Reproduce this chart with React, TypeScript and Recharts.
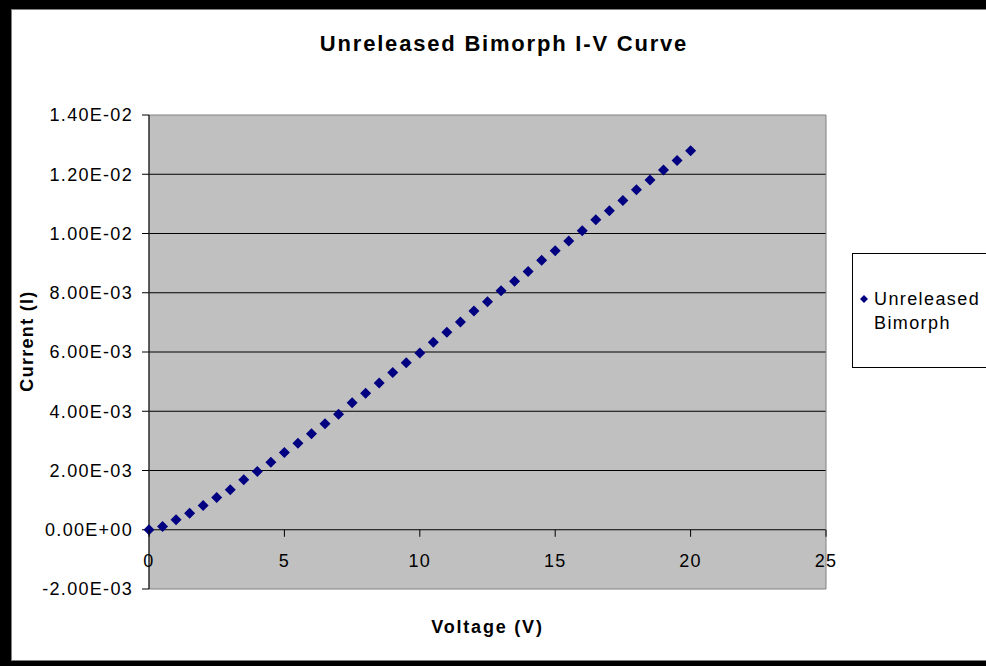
import React from 'react'
import { ScatterChart, Scatter, XAxis, YAxis, CartesianGrid, ReferenceArea, Legend } from 'recharts'

const VOLTAGE = [
  0, 0.5, 1, 1.5, 2, 2.5, 3, 3.5, 4, 4.5, 5, 5.5, 6, 6.5, 7, 7.5, 8, 8.5, 9, 9.5,
  10, 10.5, 11, 11.5, 12, 12.5, 13, 13.5, 14, 14.5, 15, 15.5, 16, 16.5, 17, 17.5, 18, 18.5, 19, 19.5, 20,
]
const CURRENT = [
  0, 0.00011, 0.00034, 0.00056, 0.00082, 0.00109, 0.00135, 0.00169, 0.00197, 0.00228,
  0.00261, 0.00292, 0.00324, 0.00358, 0.0039, 0.00429, 0.00461, 0.00495, 0.00531, 0.00564,
  0.00597, 0.00633, 0.00667, 0.00701, 0.00738, 0.0077, 0.00807, 0.00839, 0.00872, 0.0091,
  0.00942, 0.00975, 0.01009, 0.01046, 0.01077, 0.01111, 0.01148, 0.01181, 0.01214, 0.01246, 0.01279,
]
const X_TICKS = [0, 5, 10, 15, 20, 25]
const Y_TICKS = [-0.002, 0, 0.002, 0.004, 0.006, 0.008, 0.01, 0.012, 0.014]
const GRID_Y = [0, 0.002, 0.004, 0.006, 0.008, 0.01, 0.012]
const SERIES = 'Unreleased Bimorph'

const X_MIN = 0, X_MAX = 25, Y_MIN = -0.002, Y_MAX = 0.014
const W = 986, H = 666
const M = { top: 115, right: 160, bottom: 47, left: 12 }
const X_AXIS_H = 30
const PLOT_H = H - M.top - M.bottom - X_AXIS_H
// the x axis crosses at I = 0, not at the bottom of the plot
const ZERO_SHIFT = PLOT_H * (0 - Y_MIN) / (Y_MAX - Y_MIN)

const FONT = '"Liberation Sans", Arial, sans-serif'
const NAVY = '#000080'

const data = VOLTAGE.map((v, k) => ({ v, i: CURRENT[k] }))

const sci = (val: number) => {
  if (Math.abs(val) < 1e-12) return '0.00E+00'
  const [m, e] = val.toExponential(2).split('e')
  const n = parseInt(e, 10)
  return `${m}E${n < 0 ? '-' : '+'}${String(Math.abs(n)).padStart(2, '0')}`
}

const Diamond = (props: any) => {
  const { cx, cy } = props
  const r = 5.5
  return <polygon points={`${cx},${cy - r} ${cx + r},${cy} ${cx},${cy + r} ${cx - r},${cy}`} fill={NAVY} />
}

const XTick = (props: any) => {
  const { x, y, payload } = props
  const y0 = y - ZERO_SHIFT
  return (
    <g>
      <line x1={x} x2={x} y1={y0} y2={y0 + 7} stroke="#000" />
      <text x={x} y={y0 + 31} textAnchor="middle" dominantBaseline="central"
        style={{ fontFamily: FONT, fontSize: 18, letterSpacing: 1.3, fill: '#000' }}>
        {payload.value}
      </text>
    </g>
  )
}

const XTitle = (props: any) => {
  const { x, y, width } = props.viewBox
  return (
    <text x={x + width / 2} y={y + 38} textAnchor="middle" dominantBaseline="central"
      style={{ fontFamily: FONT, fontSize: 18, fontWeight: 'bold', letterSpacing: 1.8, fill: '#000' }}>
      Voltage (V)
    </text>
  )
}

const YTitle = (props: any) => {
  const { x, y, height } = props.viewBox
  const cx = x + 15, cy = y + height / 2 - 11
  return (
    <text x={cx} y={cy} transform={`rotate(-90 ${cx} ${cy})`} textAnchor="middle" dominantBaseline="central"
      style={{ fontFamily: FONT, fontSize: 18, fontWeight: 'bold', letterSpacing: 1.3, fill: '#000' }}>
      Current (I)
    </text>
  )
}

const LegendBox = (props: any) => {
  const items = props.payload || []
  return (
    <div style={{
      width: 140, height: 115, boxSizing: 'border-box', border: '1px solid #000', background: '#fff',
      display: 'flex', flexDirection: 'column', justifyContent: 'center', paddingLeft: 6,
    }}>
      {items.map((it: any) => (
        <div key={it.value} style={{ display: 'flex', alignItems: 'flex-start' }}>
          <svg width={10} height={24} style={{ flex: 'none' }}>
            <polygon points="5,8 9,12 5,16 1,12" fill={NAVY} />
          </svg>
          <span style={{
            width: 100, marginLeft: 5, fontFamily: FONT, fontSize: 18, lineHeight: '24px',
            letterSpacing: 1.4, color: '#000', textAlign: 'left',
          }}>{it.value}</span>
        </div>
      ))}
    </div>
  )
}

export default function App() {
  return (
    <div style={{ position: 'absolute', left: 0, top: 0, width: W, height: H, overflow: 'hidden', background: '#000', fontFamily: FONT }}>
      <div style={{
        position: 'absolute', left: 11, top: 9, width: 990, height: 652, boxSizing: 'border-box',
        background: '#fff', border: '1px solid #808080',
      }} />
      <div style={{
        position: 'absolute', left: 0, top: 31, width: 1008, textAlign: 'center',
        fontSize: 22, fontWeight: 'bold', letterSpacing: 1.8, color: '#000',
      }}>
        Unreleased Bimorph I-V Curve
      </div>
      <div style={{ position: 'absolute', left: 0, top: 0 }}>
        <ScatterChart width={W} height={H} margin={M}>
          <CartesianGrid vertical={false} horizontalValues={GRID_Y} stroke="#000" fill="#C0C0C0" fillOpacity={1} />
          <ReferenceArea x1={X_MIN} x2={X_MAX} y1={Y_MIN} y2={Y_MAX} fill="none" fillOpacity={0} stroke="#808080" />
          <XAxis type="number" dataKey="v" domain={[X_MIN, X_MAX]} ticks={X_TICKS} interval={0}
            axisLine={false} tickLine={false} tickSize={0} tickMargin={0} height={X_AXIS_H}
            tick={<XTick />} label={<XTitle />} />
          <YAxis type="number" dataKey="i" domain={[Y_MIN, Y_MAX]} ticks={Y_TICKS} interval={0}
            width={149 - M.left} tickSize={7} tickMargin={9} tickFormatter={sci}
            axisLine={{ stroke: '#000' }} tickLine={{ stroke: '#000' }}
            tick={{ fill: '#000', fontSize: 18, fontFamily: FONT, letterSpacing: 1.3 }}
            label={<YTitle />} />
          <Legend layout="vertical" align="center" verticalAlign="middle" content={LegendBox}
            wrapperStyle={{ left: 852, top: 253, width: 140, height: 115 }} />
          <Scatter name={SERIES} data={data} shape={Diamond} fill={NAVY} isAnimationActive={false} />
        </ScatterChart>
      </div>
    </div>
  )
}
